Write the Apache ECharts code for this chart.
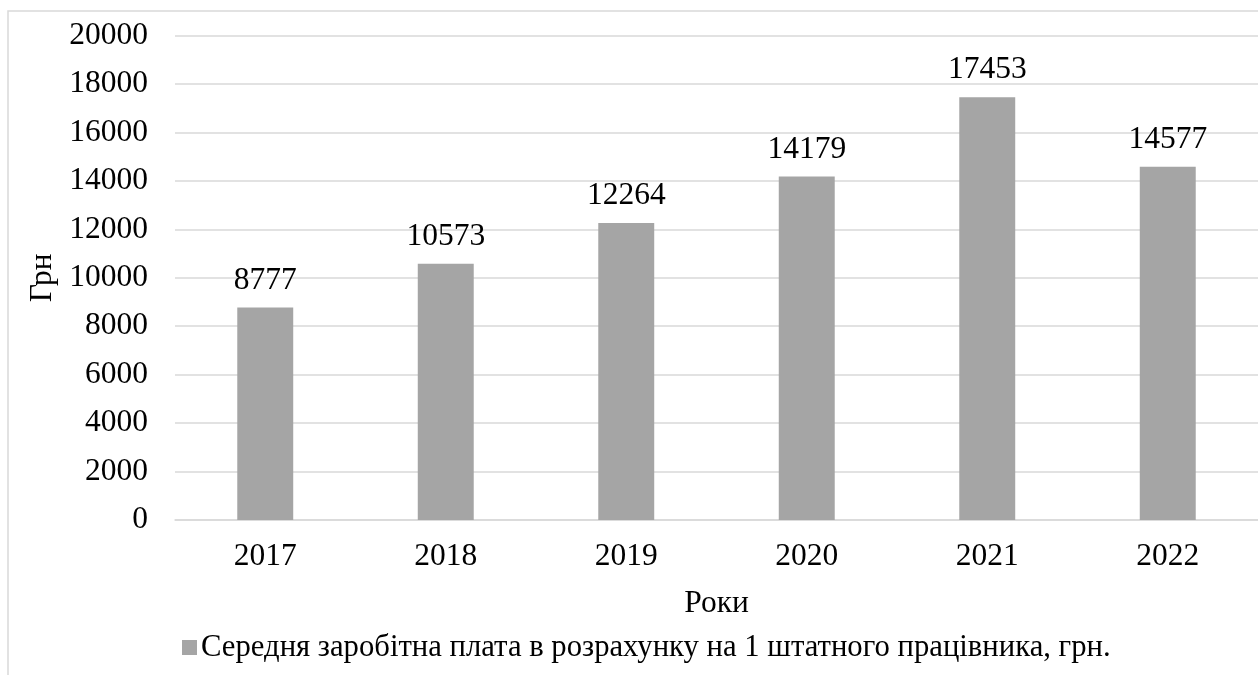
<!DOCTYPE html>
<html>
<head>
<meta charset="utf-8">
<script src="https://cdn.jsdelivr.net/npm/echarts@6/dist/echarts.min.js"></script>
<style>
html,body{margin:0;padding:0;background:#fff;}
#chart{width:1258px;height:675px;}
</style>
</head>
<body>
<div id="chart"></div>
<script>
const categories = ['2017', '2018', '2019', '2020', '2021', '2022'];
const salaryValues = [8777, 10573, 12264, 14179, 17453, 14577];
const seriesName = 'Середня заробітна плата в розрахунку на 1 штатного працівника, грн.';
const yAxisName = 'Грн';
const xAxisName = 'Роки';

const FONT = '"Liberation Serif", "Times New Roman", serif';
const FS = 31.5;
const chart = echarts.init(document.getElementById('chart'));
chart.setOption({
  backgroundColor: '#fff',
  animation: false,
  textStyle: { fontFamily: FONT },
  graphic: [{
    type: 'rect',
    shape: { x: 8, y: 11, width: 1400, height: 800 },
    style: { fill: 'none', stroke: '#d9d9d9', lineWidth: 1.5 },
    silent: true, z: -1
  }],
  grid: { left: 175, right: -3, top: 35.5, bottom: 155, containLabel: false },
  legend: {
    top: 627, left: 177,
    itemWidth: 15, itemHeight: 15, itemGap: 6,
    icon: 'rect',
    textStyle: { fontFamily: FONT, fontSize: 30.7, color: '#000', padding: [0, 0, 0, -1] },
    data: [seriesName]
  },
  xAxis: {
    type: 'category',
    data: categories,
    name: xAxisName,
    nameLocation: 'middle',
    nameGap: 68,
    nameTextStyle: { fontFamily: FONT, fontSize: FS, color: '#000' },
    axisLine: { lineStyle: { color: '#d9d9d9', width: 1.5 } },
    axisTick: { show: false },
    axisLabel: { fontFamily: FONT, fontSize: FS, color: '#000', margin: 21 }
  },
  yAxis: {
    type: 'value',
    min: 0, max: 20000, interval: 2000,
    name: yAxisName,
    nameLocation: 'middle',
    nameGap: 112,
    nameRotate: 90,
    nameTextStyle: { fontFamily: FONT, fontSize: FS, color: '#000' },
    axisLine: { show: false },
    axisTick: { show: false },
    splitLine: { lineStyle: { color: '#d9d9d9', width: 1.5 } },
    axisLabel: { fontFamily: FONT, fontSize: FS, color: '#000', margin: 27, formatter: v => String(v) }
  },
  series: [{
    name: seriesName,
    type: 'bar',
    data: salaryValues,
    barWidth: '31%',
    itemStyle: { color: '#a5a5a5' },
    label: {
      show: true, position: 'top', distance: 11,
      fontFamily: FONT, fontSize: FS, color: '#000'
    }
  }]
});
</script>
</body>
</html>
